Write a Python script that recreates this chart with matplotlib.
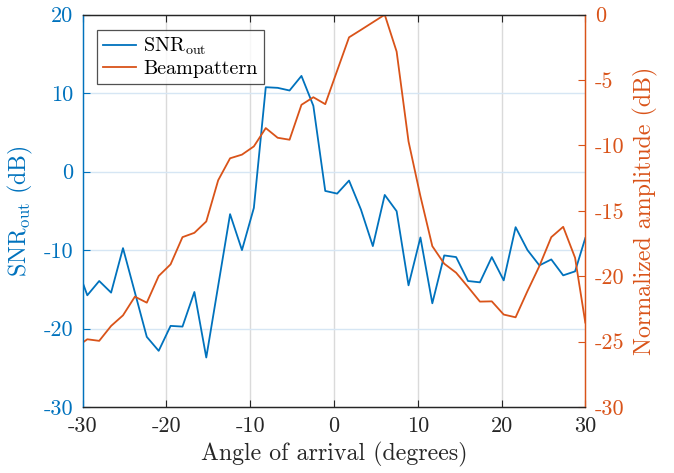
import numpy as np
import matplotlib
matplotlib.use("Agg")
import matplotlib.pyplot as plt

plt.rcParams['font.family'] = ['cmr10', 'DejaVu Serif']
plt.rcParams['mathtext.fontset'] = 'cm'
plt.rcParams['axes.unicode_minus'] = False
plt.rcParams['axes.formatter.use_mathtext'] = True

# angles of arrival (deg): edge values at -30 / 30 plus sampled points
angles_inner = np.linspace(-29.45, 28.78, 42)
angles = np.concatenate(([-30.0], angles_inner, [30.0]))

snr_out = [-14.15,
           -15.76, -13.94, -15.42, -9.75, -15.4, -21.06, -22.84, -19.66, -19.75, -15.34,
           -23.69, -14.55, -5.42, -10.0, -4.62, 10.76, 10.68, 10.34, 12.2, 8.39,
           -2.46, -2.8, -1.14, -4.83, -9.49, -2.97, -5.04, -14.49, -8.39, -16.78,
           -10.68, -10.89, -13.94, -14.11, -10.89, -13.86, -7.08, -10.0, -11.95, -11.19,
           -13.22, -12.71,
           -8.47]

beampattern = [-25.07,
               -24.82, -24.94, -23.8, -22.99, -21.56, -22.02, -19.98, -19.09, -17.01, -16.68,
               -15.81, -12.66, -10.98, -10.7, -10.07, -8.67, -9.41, -9.56, -6.89, -6.31,
               -6.84, -4.28, -1.73, -1.16, -0.58, 0.0, -2.82, -9.69, -13.88, -17.7,
               -19.04, -19.73, -20.82, -21.94, -21.92, -22.93, -23.14, -21.13, -19.22, -17.01,
               -16.22, -18.59,
               -23.54]

xticks = [-30, -20, -10, 0, 10, 20, 30]
yticks_left = [-30, -20, -10, 0, 10, 20]
yticks_right = [-30, -25, -20, -15, -10, -5, 0]

blue = '#0072BD'
orange = '#D95319'
dark = '#262626'

fig = plt.figure(figsize=(6.74, 4.73), dpi=100)
ax = fig.add_axes([0.1227, 0.1395, 0.7457, 0.8294])
ax2 = ax.twinx()

l1, = ax.plot(angles, snr_out, color=blue, lw=1.3, label=r'SNR$_{\rm out}$')
l2, = ax2.plot(angles, beampattern, color=orange, lw=1.3, label='Beampattern')

ax.set_xlim(-30, 30)
ax.set_ylim(-30, 20)
ax2.set_ylim(-30, 0)
ax.set_xticks(xticks)
ax.set_xticklabels([str(t) for t in xticks])
ax.set_yticks(yticks_left)
ax.set_yticklabels([str(t) for t in yticks_left])
ax2.set_yticks(yticks_right)
ax2.set_yticklabels([str(t) for t in yticks_right])

# grid lines
for t in xticks[1:-1]:
    ax.axvline(t, color='#DADADA', lw=1.0, zorder=0)
for t in yticks_left[1:-1]:
    ax.axhline(t, color='#D6E6F4', lw=1.0, zorder=0)

fs = 16
ax.tick_params(axis='x', direction='in', top=True, length=5, width=0.8,
               colors=dark, labelsize=fs, pad=7)
ax.tick_params(axis='y', direction='in', length=5, width=0.8,
               colors=blue, labelsize=fs, pad=7)
ax2.tick_params(axis='y', direction='in', length=5, width=0.8,
                colors=orange, labelsize=fs, pad=7)

for a in (ax, ax2):
    a.spines['left'].set_color(blue)
    a.spines['right'].set_color(orange)
    a.spines['top'].set_color(dark)
    a.spines['bottom'].set_color(dark)
    for s in a.spines.values():
        s.set_linewidth(0.9)

ax.set_xlabel('Angle of arrival (degrees)', fontsize=17.2, color=dark, labelpad=4)
ax.set_ylabel(r'SNR$_{\rm out}$ (dB)', fontsize=17.2, color=blue, labelpad=6)
ax2.set_ylabel('Normalized amplitude (dB)', fontsize=17.2, color=orange, labelpad=6)

leg = ax2.legend([l1, l2], [r'SNR$_{\rm out}$', 'Beampattern'], loc='upper left',
                 bbox_to_anchor=(0.028, 0.962), fontsize=14.5, frameon=True,
                 fancybox=False, edgecolor=dark, borderpad=0.3, handlelength=1.65,
                 handletextpad=0.35, labelspacing=0.12, borderaxespad=0)
leg.get_frame().set_linewidth(0.9)

fig.savefig('out.png', dpi=100)
